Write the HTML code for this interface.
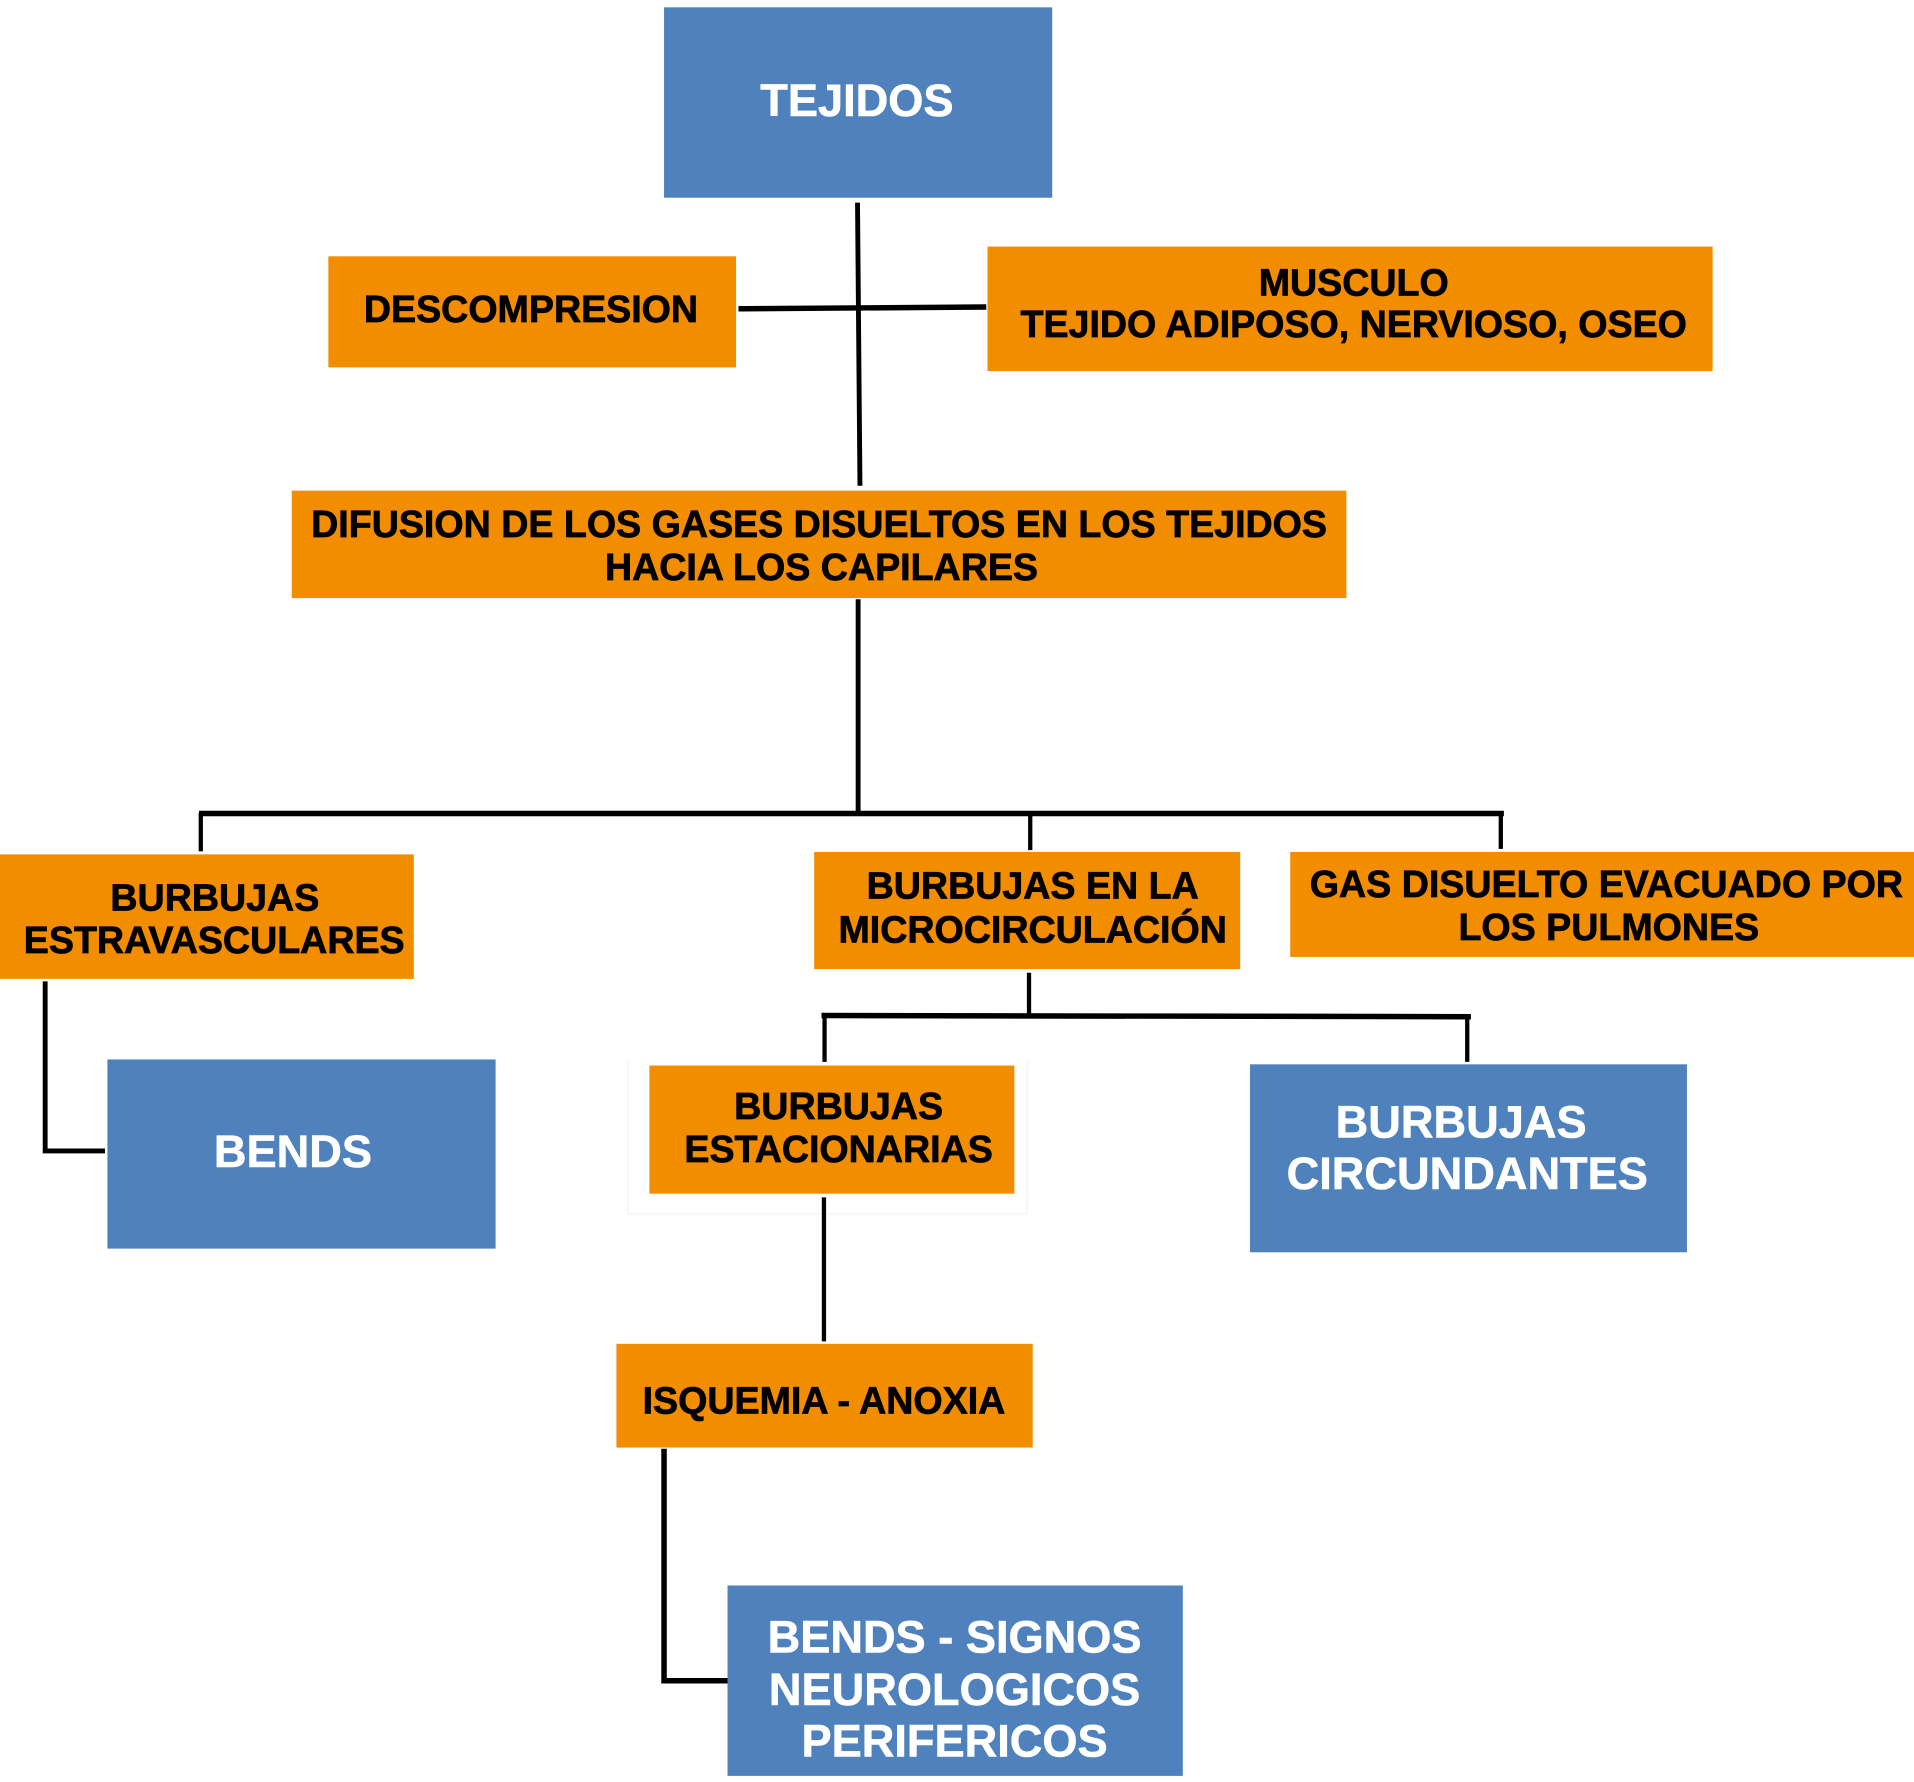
<!DOCTYPE html>
<html>
<head>
<meta charset="utf-8">
<style>
html,body{margin:0;padding:0;background:#fff;}
body{width:1914px;height:1782px;overflow:hidden;position:relative;}
#c{position:absolute;left:0;top:0;width:1568px;height:1460px;transform:scale(1.220663,1.220548);transform-origin:0 0;}
.b{position:absolute;background:#4F81BD;}
.o{position:absolute;background:#F28D00;}
.t{position:absolute;width:900px;margin-left:-450px;height:40px;line-height:40px;text-align:center;white-space:nowrap;
font-family:"Liberation Sans",Arial,sans-serif;font-weight:bold;color:#000;font-size:30.8px;-webkit-text-stroke:0.6px #000;}
.w{color:#fff;font-size:37px;-webkit-text-stroke:0.5px #fff;}
svg{position:absolute;left:0;top:0;}
</style>
</head>
<body>
<div id="c">
  <!-- boxes -->
  <div class="b" style="left:544px;top:6px;width:318px;height:156px;"></div>
  <div class="o" style="left:269px;top:210px;width:334px;height:91px;"></div>
  <div class="o" style="left:809px;top:202px;width:594px;height:102px;"></div>
  <div class="o" style="left:239px;top:402px;width:864px;height:88px;"></div>
  <div class="o" style="left:0px;top:700px;width:339px;height:102px;"></div>
  <div class="o" style="left:667px;top:698px;width:349px;height:96px;"></div>
  <div class="o" style="left:1057px;top:698px;width:511px;height:86px;"></div>
  <div class="b" style="left:88px;top:868px;width:318px;height:155px;"></div>
  <div style="position:absolute;left:514px;top:870px;width:326px;height:124px;border:1px solid #f2f2f2;border-top:none;"></div>
  <div class="o" style="left:532px;top:873px;width:299px;height:105px;"></div>
  <div class="b" style="left:1024px;top:872px;width:358px;height:154px;"></div>
  <div class="o" style="left:505px;top:1101px;width:341px;height:85px;"></div>
  <div class="b" style="left:596px;top:1299px;width:373px;height:156px;"></div>

  <!-- connectors -->
  <svg width="1568" height="1460" viewBox="0 0 1568 1460">
    <g stroke="#000" fill="none" stroke-linecap="butt" stroke-linejoin="miter">
      <line x1="702.5" y1="166" x2="704.5" y2="398" stroke-width="4"/>
      <line x1="605" y1="253" x2="808" y2="251.5" stroke-width="4.5"/>
      <line x1="703" y1="491" x2="703" y2="667" stroke-width="4"/>
      <line x1="163" y1="666.5" x2="1232" y2="666.5" stroke-width="4.5"/>
      <line x1="164.5" y1="666" x2="164.5" y2="697.5" stroke-width="3.5"/>
      <line x1="844" y1="666" x2="844" y2="696.5" stroke-width="3.5"/>
      <line x1="1229.5" y1="666" x2="1229.5" y2="695.5" stroke-width="3.5"/>
      <polyline points="37,804 37,943 86,943" stroke-width="4"/>
      <line x1="843" y1="797" x2="843" y2="833" stroke-width="3.5"/>
      <line x1="673" y1="832" x2="1205" y2="833" stroke-width="4.5"/>
      <line x1="675.5" y1="832" x2="675.5" y2="870" stroke-width="3.5"/>
      <line x1="1202" y1="832" x2="1202" y2="870" stroke-width="3.5"/>
      <line x1="675" y1="981" x2="675" y2="1099" stroke-width="3.5"/>
      <polyline points="544,1187 544,1377 596,1377" stroke-width="4.5"/>
    </g>
  </svg>

  <!-- text -->
  <div class="t w" style="left:702px;top:63px;">TEJIDOS</div>
  <div class="t" style="left:435px;top:234px;">DESCOMPRESION</div>
  <div class="t" style="left:1109px;top:211.5px;">MUSCULO</div>
  <div class="t" style="left:1109px;top:245.5px;">TEJIDO ADIPOSO, NERVIOSO, OSEO</div>
  <div class="t" style="left:671px;top:409.5px;">DIFUSION DE LOS GASES DISUELTOS EN LOS TEJIDOS</div>
  <div class="t" style="left:673px;top:444.5px;">HACIA LOS CAPILARES</div>
  <div class="t" style="left:176px;top:715.5px;">BURBUJAS</div>
  <div class="t" style="left:175.5px;top:750.5px;">ESTRAVASCULARES</div>
  <div class="t" style="left:846px;top:706px;">BURBUJAS EN LA</div>
  <div class="t" style="left:846px;top:741.5px;">MICROCIRCULACIÓN</div>
  <div class="t" style="left:1316px;top:704.5px;">GAS DISUELTO EVACUADO POR</div>
  <div class="t" style="left:1318px;top:739.5px;">LOS PULMONES</div>
  <div class="t w" style="left:240px;top:924px;">BENDS</div>
  <div class="t" style="left:687px;top:886.5px;">BURBUJAS</div>
  <div class="t" style="left:687px;top:921.5px;">ESTACIONARIAS</div>
  <div class="t w" style="left:1197px;top:900px;">BURBUJAS</div>
  <div class="t w" style="left:1202px;top:942px;">CIRCUNDANTES</div>
  <div class="t" style="left:675px;top:1128px;">ISQUEMIA - ANOXIA</div>
  <div class="t w" style="left:782px;top:1322px;">BENDS - SIGNOS</div>
  <div class="t w" style="left:782px;top:1365px;">NEUROLOGICOS</div>
  <div class="t w" style="left:782px;top:1407px;">PERIFERICOS</div>
</div>
</body>
</html>
